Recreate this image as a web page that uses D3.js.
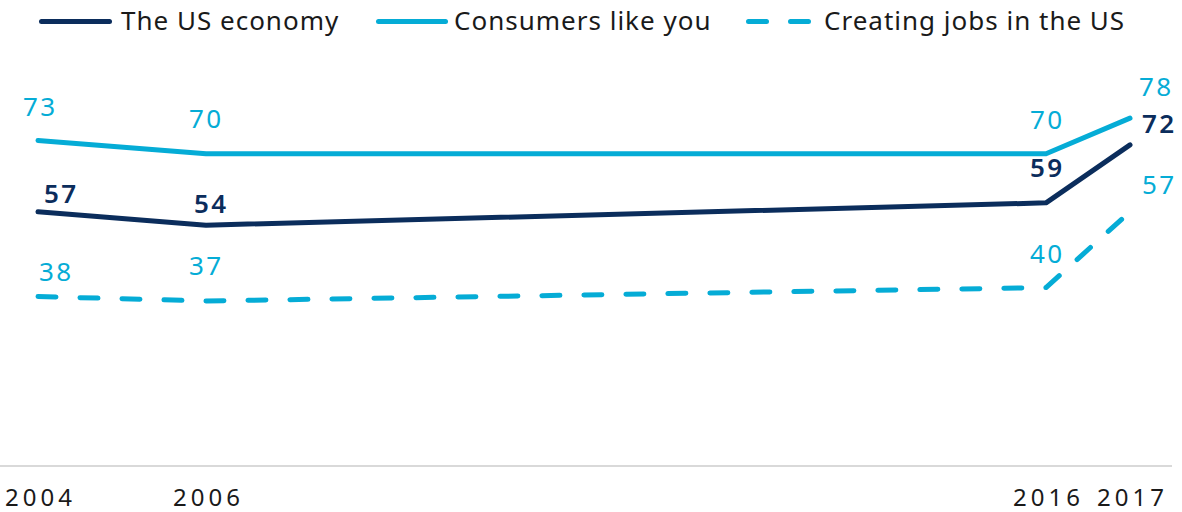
<!DOCTYPE html>
<html>
<head>
<meta charset="utf-8">
<script src="https://cdn.jsdelivr.net/npm/d3@7"></script>
<style>
  html, body { margin: 0; padding: 0; background: #fff; }
  svg { display: block; font-family: "Noto Sans", "DejaVu Sans", sans-serif; }
</style>
</head>
<body>
<svg id="chart" width="1182" height="512"></svg>
<script>
// ---- data ----
const years = [2004, 2006, 2016, 2017];
const tickLabels = ["2004", "2006", "2016", "2017"];
const seriesNames = ["The US economy", "Consumers like you", "Creating jobs in the US"];
const usEconomy = [57, 54, 59, 72];
const consumers = [73, 70, 70, 78];
const creatingJobs = [38, 37, 40, 57];

// ---- styles ----
const dark = "#0b2d5c";
const light = "#05acd6";
const seriesStyles = [
  { values: usEconomy, color: dark, dash: null, weight: 600 },
  { values: consumers, color: light, dash: null, weight: 400 },
  { values: creatingJobs, color: light, dash: "18,24", weight: 400 }
];
// label nudges [dx, dy] per series per point (text centred)
const labelNudge = [
  [[22, -9], [4, -12], [0, -26], [28, -12]],
  [[1, -24], [-1, -26], [0, -25], [25, -22]],
  [[17, -15.5], [-1, -26], [0, -25], [28, -18]]
];
const numSpacing = 2.5;
const tickSpacing = 4;

const svg = d3.select("#chart");

const x = d3.scaleLinear().domain([2004, 2017]).range([38, 1130]);
const y = d3.scaleLinear().domain([0, 100]).range([466, 20]);

// axis baseline
svg.append("line")
  .attr("x1", 0).attr("x2", 1172)
  .attr("y1", y(0)).attr("y2", y(0))
  .attr("stroke", "#d9d9d9").attr("stroke-width", 2);

// tick labels
const axis = d3.axisBottom(x).tickValues(years).tickFormat((d, i) => tickLabels[i]).tickSize(0).tickPadding(0);
const gAxis = svg.append("g").attr("transform", `translate(0,${y(0)})`).call(axis);
gAxis.select(".domain").remove();
gAxis.selectAll(".tick text")
  .attr("font-family", "'Noto Sans', sans-serif")
  .attr("font-size", 24)
  .attr("letter-spacing", tickSpacing)
  .attr("fill", "#1a1a1a")
  .attr("dy", null)
  .attr("y", 39.5)
  .attr("dx", tickSpacing / 2);

// lines
const line = d3.line().x((d, i) => x(years[i])).y(d => y(d));
seriesStyles.forEach((s, si) => {
  svg.append("path")
    .datum(s.values)
    .attr("d", line)
    .attr("fill", "none")
    .attr("stroke", s.color)
    .attr("stroke-width", 5)
    .attr("stroke-linecap", "round")
    .attr("stroke-linejoin", "round")
    .attr("stroke-dasharray", s.dash);

  svg.append("g").selectAll("text")
    .data(s.values)
    .join("text")
    .attr("x", (d, i) => x(years[i]) + labelNudge[si][i][0] + numSpacing / 2)
    .attr("y", (d, i) => y(d) + labelNudge[si][i][1])
    .attr("text-anchor", "middle")
    .attr("font-size", 26)
    .attr("letter-spacing", numSpacing)
    .attr("font-weight", s.weight)
    .attr("fill", s.color)
    .text(d => d);
});

// legend
const legendItems = [
  { x1: 41.5, x2: 109.5, tx: 121 },
  { x1: 378.5, x2: 445.5, tx: 454 },
  { x1: 748.5, x2: 808.5, tx: 824 }
];
const legend = svg.append("g");
legendItems.forEach((it, i) => {
  legend.append("line")
    .attr("x1", it.x1).attr("x2", it.x2)
    .attr("y1", 21.5).attr("y2", 21.5)
    .attr("stroke", seriesStyles[i].color)
    .attr("stroke-width", 5)
    .attr("stroke-linecap", "round")
    .attr("stroke-dasharray", seriesStyles[i].dash);
  legend.append("text")
    .attr("x", it.tx).attr("y", 30)
    .attr("font-size", 26)
    .attr("letter-spacing", 1)
    .attr("fill", "#1a1a1a")
    .text(seriesNames[i]);
});
</script>
</body>
</html>
